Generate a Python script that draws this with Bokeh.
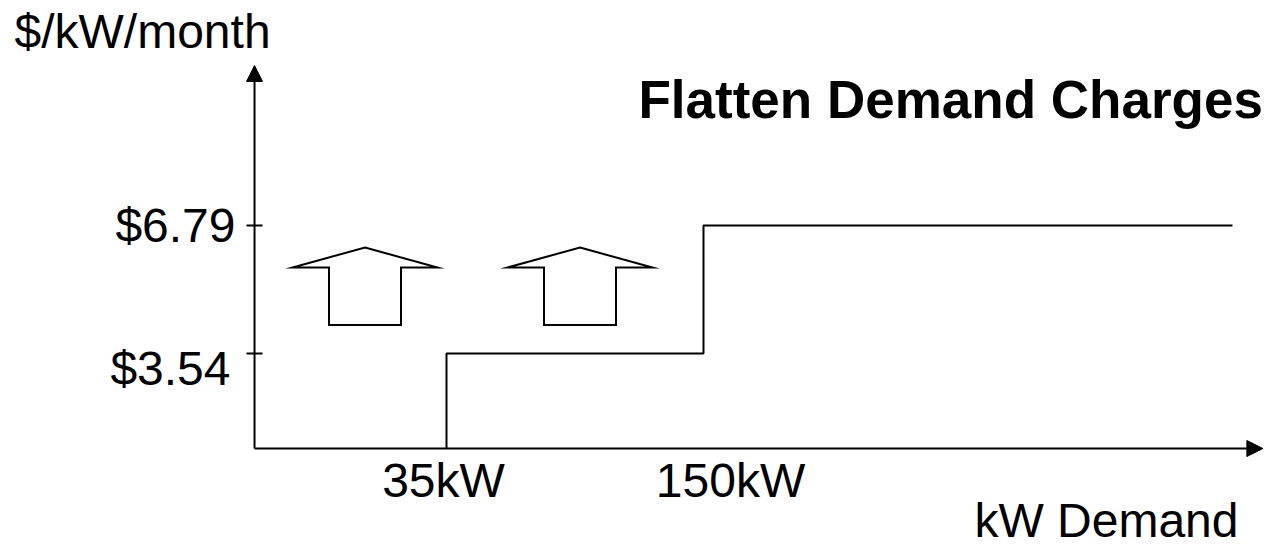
from bokeh.plotting import figure
from bokeh.models import Range1d, Arrow, NormalHead, Label
from bokeh.embed import file_html
from bokeh.resources import INLINE

# ---- data ----
kw_breaks = [35, 150]            # demand thresholds (kW)
rates = [3.54, 6.79]             # $/kW/month for each tier
demand_labels = ["35kW", "150kW"]
rate_labels = ["$3.54", "$6.79"]
title_text = "Flatten Demand Charges"
y_title = "$/kW/month"
x_title = "kW Demand"

# ---- layout (schematic diagram, data units) ----
axis_kw = -50.9        # where the vertical axis sits
axis_rate = 1.128      # where the horizontal axis sits
line_end_kw = 386.7
x_tip_kw = 400.3
y_tip_rate = 10.853
arrow_centers_kw = [-1.47, 94.74]
wing_half, shaft_half = 32.44, 16.11
apex_rate, wing_rate, base_rate = 6.231, 5.724, 4.264

FONT = "Liberation Sans"

p = figure(width=1268, height=548, output_backend="svg", toolbar_location=None,
           x_range=Range1d(-164.57, 402.82), y_range=Range1d(-1.411, 12.503),
           x_axis_location=None, y_axis_location=None, min_border=0)
p.grid.visible = False
p.outline_line_color = None
p.background_fill_color = "white"
p.border_fill_color = "white"

# axes with arrow heads
p.add_layout(Arrow(end=NormalHead(size=16, fill_color="black", line_color="black", line_width=1),
                   x_start=axis_kw, y_start=axis_rate, x_end=axis_kw, y_end=y_tip_rate,
                   line_width=2, line_color="black"))
p.add_layout(Arrow(end=NormalHead(size=16, fill_color="black", line_color="black", line_width=1),
                   x_start=axis_kw, y_start=axis_rate, x_end=x_tip_kw, y_end=axis_rate,
                   line_width=2, line_color="black"))

# tick marks on the vertical axis
p.segment(x0=[axis_kw - 3.58] * len(rates), x1=[axis_kw + 3.58] * len(rates),
          y0=rates, y1=rates, line_color="black", line_width=2)

# step line of the tariff
step_x = [kw_breaks[0], kw_breaks[0], kw_breaks[1], kw_breaks[1], line_end_kw]
step_y = [axis_rate, rates[0], rates[0], rates[1], rates[1]]
p.line(step_x, step_y, line_color="black", line_width=2)

# hollow up arrows
xs, ys = [], []
for cx in arrow_centers_kw:
    xs.append([cx, cx + wing_half, cx + shaft_half, cx + shaft_half,
               cx - shaft_half, cx - shaft_half, cx - wing_half])
    ys.append([apex_rate, wing_rate, wing_rate, base_rate,
               base_rate, wing_rate, wing_rate])
p.patches(xs, ys, fill_color="white", line_color="black", line_width=2, line_join="miter")

# texts
p.add_layout(Label(x=14, y=517, x_units="screen", y_units="screen", text=y_title,
                   text_font=FONT, text_font_size="48px", text_align="left",
                   text_baseline="alphabetic", text_color="black"))
p.add_layout(Label(x=638, y=449, x_units="screen", y_units="screen", text=title_text,
                   text_font=FONT, text_font_size="53px", text_font_style="bold",
                   text_align="left", text_baseline="alphabetic", text_color="black"))
p.add_layout(Label(x=1238, y=28, x_units="screen", y_units="screen", text=x_title,
                   text_font=FONT, text_font_size="48px", text_align="right",
                   text_baseline="alphabetic", text_color="black"))

rate_offsets_y = [-15, 0]
rate_offsets_x = [-5, 0]
for r, lab, oy, ox in zip(rates, rate_labels, rate_offsets_y, rate_offsets_x):
    p.add_layout(Label(x=235, y=r, x_units="screen", y_units="data", y_offset=oy, x_offset=ox,
                       text=lab, text_font=FONT, text_font_size="48px", text_align="right",
                       text_baseline="alphabetic", text_color="black"))

kw_offsets = [-3, 27]
for k, lab, off in zip(kw_breaks, demand_labels, kw_offsets):
    p.add_layout(Label(x=k, y=68, x_units="data", y_units="screen", x_offset=off,
                       text=lab, text_font=FONT, text_font_size="48px", text_align="center",
                       text_baseline="alphabetic", text_color="black"))

open("out.html", "w").write(file_html(p, INLINE))
